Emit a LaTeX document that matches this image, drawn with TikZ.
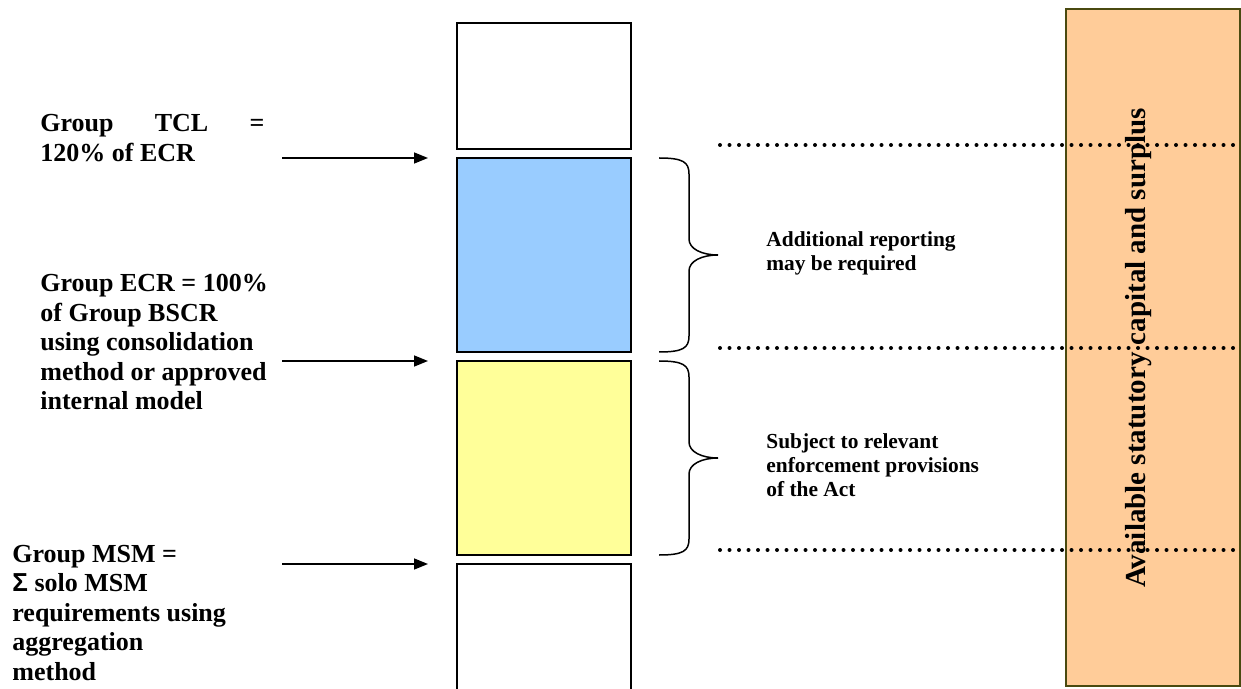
\documentclass[tikz,border=0pt]{standalone}
\usepackage{fontspec}
\setmainfont{Liberation Serif}
\newfontfamily\sigmafont{Liberation Sans}
\usetikzlibrary{arrows.meta}
\definecolor{capblue}{HTML}{99CCFF}
\definecolor{capyellow}{HTML}{FFFF99}
\definecolor{surplus}{HTML}{FFCC99}
\definecolor{surplusedge}{HTML}{4A4A10}

\begin{document}
\begin{tikzpicture}[x=0.5pt,y=-0.5pt,
    level/.style={draw=black,line width=1pt,minimum width=87pt,inner sep=0pt,outer sep=0pt},
    req/.style={font=\fontsize{13}{14.75}\selectfont\bfseries,inner sep=0pt,anchor=west},
    note/.style={font=\fontsize{10.7}{12}\selectfont\bfseries,inner sep=0pt,anchor=west,align=left},
    pointer/.style={-{Triangle[length=7pt,width=5.5pt]},line width=0.75pt},
    bracket/.style={line width=0.75pt},
    threshold/.style={line width=2pt,line cap=round,dash pattern=on 0pt off 4.75pt}]
    \useasboundingbox (0,0) rectangle (1241,689);
    \clip (0,0) rectangle (1241,689);
    \def\cx{544}
    \node[level,minimum height=63pt] (tcl-top) at (\cx,86) {};
    \node[level,fill=capblue,minimum height=97pt] (ecr) at (\cx,255) {};
    \node[level,fill=capyellow,minimum height=97pt] (msm) at (\cx,458) {};
    \node[level,minimum height=70pt,anchor=north] (base) at (\cx,564) {};
    \foreach \b/\a in {ecr/tcl,msm/ecr,base/msm}{
        \coordinate (\a-from) at ([xshift=-87.5pt]\b.north west);
        \draw[pointer] (\a-from) -- ([xshift=-14.5pt]\b.north west);
    }
    \node[req,text width=112pt,align=justify] (tcl-text) at (40,138)
        {Group TCL =\linebreak 120\% of ECR};
    \node[req,align=left] (ecr-text) at (40,342)
        {Group ECR = 100\%\\ of Group BSCR\\ using consolidation\\ method or approved\\ internal model};
    \node[req,align=left] (msm-text) at (12,613)
        {Group MSM =\\ {\sigmafont Σ} solo MSM\\ requirements using\\ aggregation\\ method};
    \foreach \b in {ecr,msm}
        \draw[bracket] ([xshift=14pt]\b.north east)
            .. controls +(24,0) and +(0,-12) .. ++(30,16) -- ++(0,65)
            .. controls +(0,10) and +(-16,0) .. ++(29,16)
            .. controls +(-16,0) and +(0,-10) .. ++(-29,16) -- ++(0,65)
            .. controls +(0,12) and +(24,0) .. ++(-30,16);
    \node[note] (report-text) at (766,253) {Additional reporting\\ may be required};
    \node[note] (enforce-text) at (766,465) {Subject to relevant\\ enforcement provisions\\ of the Act};
    \node[fill=surplus,draw=surplusedge,line width=1pt,minimum width=87pt,minimum height=338.5pt,inner sep=0pt]
        (capital) at (1153,347.5) {};
    \node[rotate=90,font=\fontsize{14.5}{16}\selectfont\bfseries,inner sep=0pt] (capital-text) at (1139,348)
        {Available statutory capital and surplus};
    \foreach \y in {145,348,550}
        \draw[threshold] (720,\y) -- (1238,\y);
\end{tikzpicture}
\end{document}
